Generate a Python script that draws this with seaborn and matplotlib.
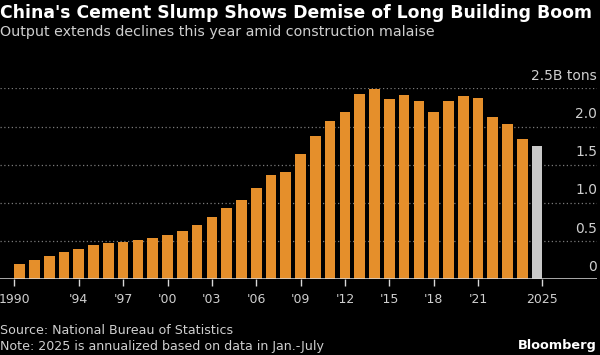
import pandas as pd
import matplotlib.pyplot as plt
import seaborn as sns

years = list(range(1990, 2026))
output_bn_tons = [0.20, 0.25, 0.30, 0.36, 0.40, 0.45, 0.48, 0.49, 0.51, 0.54,
                  0.58, 0.63, 0.71, 0.81, 0.93, 1.04, 1.20, 1.36, 1.40, 1.64,
                  1.88, 2.07, 2.19, 2.42, 2.49, 2.36, 2.41, 2.33, 2.19, 2.34,
                  2.40, 2.37, 2.13, 2.03, 1.84, 1.75]
tick_years = [1990, 1994, 1997, 2000, 2003, 2006, 2009, 2012, 2015, 2018, 2021, 2025]
tick_labels = ["1990", "'94", "'97", "'00", "'03", "'06", "'09", "'12", "'15", "'18", "'21", "2025"]
y_ticks = [0.5, 1.0, 1.5, 2.0, 2.5]
y_labels = ["0.5", "1.0", "1.5", "2.0", "2.5B tons"]

orange = "#e58f2b"
grey_bar = "#c8c8c8"
txt = "#cfcfcf"

df = pd.DataFrame({"year": [str(y) for y in years], "output": output_bn_tons})
colors = [orange] * (len(years) - 1) + [grey_bar]

sns.set_style("dark")
plt.rcParams["font.family"] = ["DejaVu Sans"]

fig = plt.figure(figsize=(6, 3.55), dpi=100, facecolor="black")
ax = fig.add_axes([0, 0.2132, 0.995, 0.538], facecolor="black")

sns.barplot(data=df, x="year", y="output", hue="year", palette=colors,
            legend=False, width=0.72, saturation=1, linewidth=0,
            edgecolor="none", ax=ax)

ax.set_xlim(-1.33, 39.05)
ax.set_ylim(0, 2.5)

for v in y_ticks:
    ax.axhline(v, color="#7a7a7a", lw=0.9, ls=(0, (1, 2)), zorder=0)
ax.axhline(0, color="#d8d8d8", lw=1.1, zorder=3)

# y labels sit above each gridline, on the right
for v, lab in zip([0] + y_ticks, ["0"] + y_labels):
    ax.annotate(lab, xy=(1.0, v), xycoords=("axes fraction", "data"),
                xytext=(0, 4), textcoords="offset points",
                ha="right", va="bottom", color=txt, fontsize=10)

# first/last ticks at the outer bar edges, the rest at bar centres
pos = [years.index(y) for y in tick_years]
pos[0] -= 0.36
pos[-1] += 0.36
ax.set_xticks(pos)
ax.set_xticklabels(tick_labels, color=txt, fontsize=9)
ax.tick_params(axis="x", length=5, width=1, color="#d8d8d8", pad=5, bottom=True)
ax.set_yticks([])
ax.set_xlabel("")
ax.set_ylabel("")
for s in ax.spines.values():
    s.set_visible(False)

fig.text(0.0, 0.962, "China's Cement Slump Shows Demise of Long Building Boom",
         color="white", fontsize=12.4, fontweight="bold", va="center", ha="left")
fig.text(0.0, 0.91, "Output extends declines this year amid construction malaise",
         color=txt, fontsize=10.3, va="center", ha="left")
fig.text(0.0, 0.068, "Source: National Bureau of Statistics",
         color=txt, fontsize=9.1, va="center", ha="left")
fig.text(0.0, 0.025, "Note: 2025 is annualized based on data in Jan.-July",
         color=txt, fontsize=9.1, va="center", ha="left")
fig.text(0.995, 0.028, "Bloomberg", color="white", fontsize=9.3,
         fontweight="bold", va="center", ha="right")

plt.savefig("out.png", dpi=100, facecolor="black")
